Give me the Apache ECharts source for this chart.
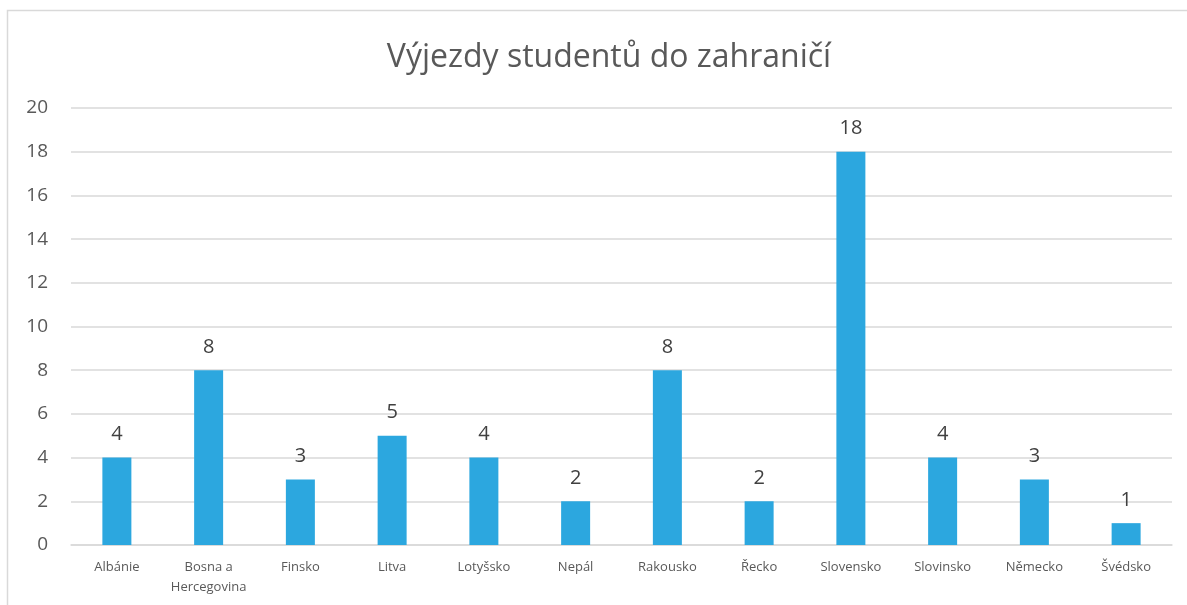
<!DOCTYPE html>
<html>
<head>
<meta charset="utf-8">
<script src="https://cdn.jsdelivr.net/npm/echarts@6/dist/echarts.min.js"></script>
<style>
  html, body { margin: 0; padding: 0; background: #fff; }
  #chart { width: 1187px; height: 605px; }
</style>
</head>
<body>
<div id="chart"></div>
<script>
// data
var countries = ["Albánie", "Bosna a\nHercegovina", "Finsko", "Litva", "Lotyšsko", "Nepál",
    "Rakousko", "Řecko", "Slovensko", "Slovinsko", "Německo", "Švédsko"];
var studentCounts = [4, 8, 3, 5, 4, 2, 8, 2, 18, 4, 3, 1];

var fontName = "'Open Sans', sans-serif";

var chart = echarts.init(document.getElementById("chart"));
var option = {
    backgroundColor: "#ffffff",
    animation: false,
    title: {
        text: "Výjezdy studentů do zahraničí",
        left: 604,
        textAlign: "center",
        top: 37,
        textStyle: {
            fontFamily: fontName,
            fontSize: 32,
            fontWeight: "normal",
            color: "#595959"
        }
    },
    graphic: [
        {
            type: "rect",
            shape: { x: 7.5, y: 10.5, width: 1300, height: 800 },
            style: { fill: "none", stroke: "#d9d9d9", lineWidth: 1.5 },
            silent: true
        }
    ],
    grid: {
        left: 71,
        right: 15,
        top: 108,
        bottom: 60,
        containLabel: false
    },
    xAxis: {
        type: "category",
        data: countries,
        axisLine: { lineStyle: { color: "#d9d9d9", width: 1.5 } },
        axisTick: { show: false },
        axisLabel: {
            interval: 0,
            margin: 12,
            fontFamily: fontName,
            fontSize: 13,
            lineHeight: 20,
            color: "#595959"
        }
    },
    yAxis: {
        type: "value",
        min: 0,
        max: 20,
        interval: 2,
        axisLine: { show: false },
        axisTick: { show: false },
        splitLine: { lineStyle: { color: "#d9d9d9", width: 1.5 } },
        axisLabel: {
            margin: 23,
            fontFamily: fontName,
            fontSize: 19,
            color: "#595959"
        }
    },
    series: [
        {
            type: "bar",
            data: studentCounts,
            barWidth: 29,
            itemStyle: { color: "#2ca7df" },
            label: {
                show: true,
                position: "top",
                distance: 13,
                fontFamily: fontName,
                fontSize: 20,
                color: "#404040"
            }
        }
    ]
};
option && chart.setOption(option);
</script>
</body>
</html>
